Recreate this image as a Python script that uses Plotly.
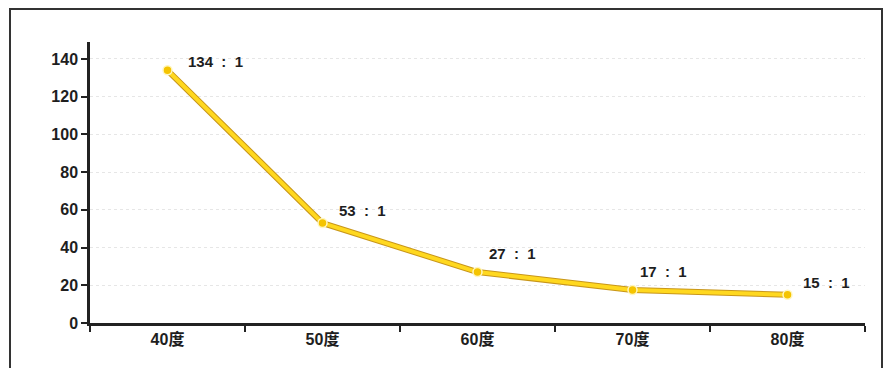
import plotly.graph_objects as go

categories = ["40度", "50度", "60度", "70度", "80度"]
values = [134, 53, 27, 17.5, 15]
labels = ["134 : 1", "53 : 1", "27 : 1", "17 : 1", "15 : 1"]
label_dx = [48, 40, 35, 31, 39]
label_dy = [9, 13, 19, 19, 12]
y_ticks = [0, 20, 40, 60, 80, 100, 120, 140]

FONT = "Liberation Sans, Arial, Noto Sans CJK SC, sans-serif"

fig = go.Figure()
# dark shadow line under the yellow line
fig.add_trace(go.Scatter(
    x=categories, y=values, mode="lines",
    line=dict(color="#C8961A", width=6), hoverinfo="skip", showlegend=False))
fig.add_trace(go.Scatter(
    x=categories, y=values, mode="lines+markers",
    line=dict(color="#FFD81F", width=4),
    marker=dict(size=9, color="#F5C400", line=dict(color="#FFF6C0", width=1.5)),
    showlegend=False))

for c, v, t, dx, dy in zip(categories, values, labels, label_dx, label_dy):
    wide = t.replace(" ", "&nbsp;&nbsp;")
    fig.add_annotation(x=c, y=v, text="<b>" + wide + "</b>", showarrow=False,
                       xshift=dx, yshift=dy,
                       font=dict(family=FONT, size=15, color="#1E1E1E"))

# scanned frame
fig.add_shape(type="rect", xref="paper", yref="paper",
              x0=-80 / 775, x1=792 / 775, y0=-0.3, y1=314 / 281,
              line=dict(color="#333333", width=2), layer="below")

fig.update_layout(
    width=893, height=368,
    margin=dict(l=82, r=36, t=34, b=53),
    paper_bgcolor="white", plot_bgcolor="white",
    font=dict(family=FONT, size=16, color="#1E1E1E"),
    xaxis=dict(
        type="category", range=[-0.5, 4.5],
        tickson="boundaries", ticks="outside", ticklen=6, tickwidth=2, tickcolor="#222",
        showline=True, linecolor="#222222", linewidth=2.5,
        showgrid=False, zeroline=False,
        tickfont=dict(family=FONT, size=16, color="#1E1E1E", weight="bold"),
    ),
    yaxis=dict(
        range=[0, 149], tickvals=y_ticks,
        ticks="outside", ticklen=6, tickwidth=2, tickcolor="#222",
        showline=True, linecolor="#222222", linewidth=2.5,
        showgrid=True, gridcolor="#E6E6E6", griddash="dot", gridwidth=1,
        zeroline=False,
        tickfont=dict(family=FONT, size=16, color="#1E1E1E", weight="bold"),
    ),
)

fig.write_html("out.html")
